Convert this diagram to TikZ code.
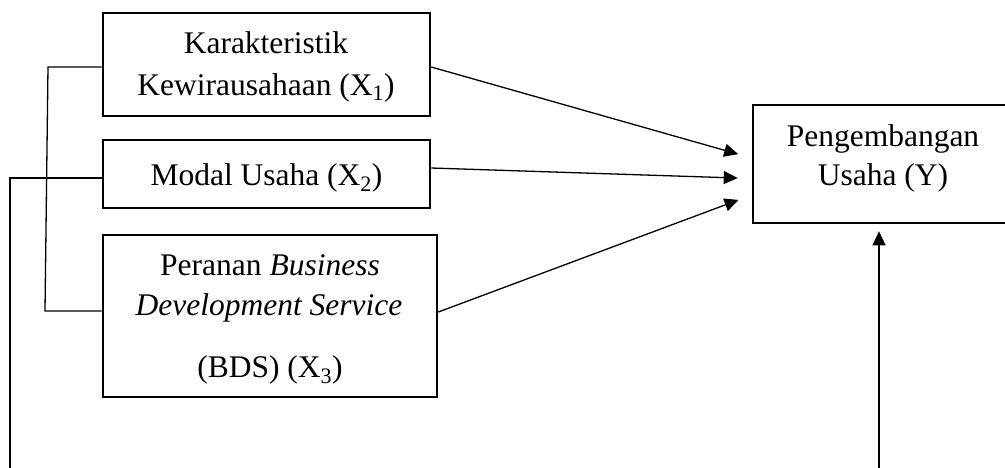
\documentclass[tikz,border=0pt]{standalone}
\usepackage{fontspec}
\setmainfont{Liberation Serif}
\usetikzlibrary{arrows.meta,calc}
\begin{document}
\begin{tikzpicture}[x=1pt,y=-1pt,
  boxstyle/.style={draw=black,line width=2.6pt,rectangle,inner sep=0pt},
  txt/.style={inner sep=0pt,anchor=base,font=\fontsize{31.5}{38}\selectfont},
  conn/.style={draw=black,line width=1.3pt},
  arr/.style={conn,-{Triangle[length=14pt,width=13pt]}}]
\useasboundingbox (0,0) rectangle (1005,467);
\clip (0,0) rectangle (1005,467);
\fill[white] (0,0) rectangle (1005,467);
% boxes
\node[boxstyle,minimum width=327pt,minimum height=103pt] (x1) at (266.5,64.5) {};
\node[boxstyle,minimum width=327pt,minimum height=68pt] (x2) at (266.5,174) {};
\node[boxstyle,minimum width=334pt,minimum height=162pt] (x3) at (270,316) {};
\node[boxstyle,minimum width=260pt,minimum height=118pt] (y) at (883,164) {};
% texts
\node[txt] (x1a) at (266,53) {Karakteristik};
\node[txt] (x1b) at (266,95) {Kewirausahaan (X\textsubscript{1})};
\node[txt] (x2a) at (266.5,185) {Modal Usaha (X\textsubscript{2})};
\node[txt] (x3a) at (270,275) {Peranan \textit{Business}};
\node[txt] (x3b) at (269,315) {\textit{Development Service}};
\node[txt] (x3c) at (270,377) {(BDS) (X\textsubscript{3})};
\node[txt] (ya) at (883,146) {Pengembangan};
\node[txt] (yb) at (883,185) {Usaha (Y)};
% arrows to Y
\draw[arr,shorten >=14pt] ($(x1.east)+(0,2.5)$) -- ($(y.west)+(0,-6)$);
\draw[arr,shorten >=14pt] ($(x2.east)+(0,-6)$) -- ($(y.west)+(0,14.5)$);
\draw[arr,shorten >=14pt] ($(x3.east)+(0,-4)$) -- ($(y.west)+(0,31)$);
% bottom arrow
\coordinate (ybot) at (879,475);
\draw[arr,shorten >=7pt] (ybot) -- ($(y.south)+(-4,0)$);
% left brackets
\coordinate (b1) at (48,67);
\coordinate (b2) at (45,311);
\draw[conn] ($(x1.west)+(0,2.5)$) -- (b1) -- (b2) -- ($(x3.west)+(0,-5)$);
\coordinate (m1) at (10,178);
\coordinate (m2) at (10,475);
\draw[conn] ($(x2.west)+(0,4)$) -- (m1) -- (m2);
\end{tikzpicture}
\end{document}
